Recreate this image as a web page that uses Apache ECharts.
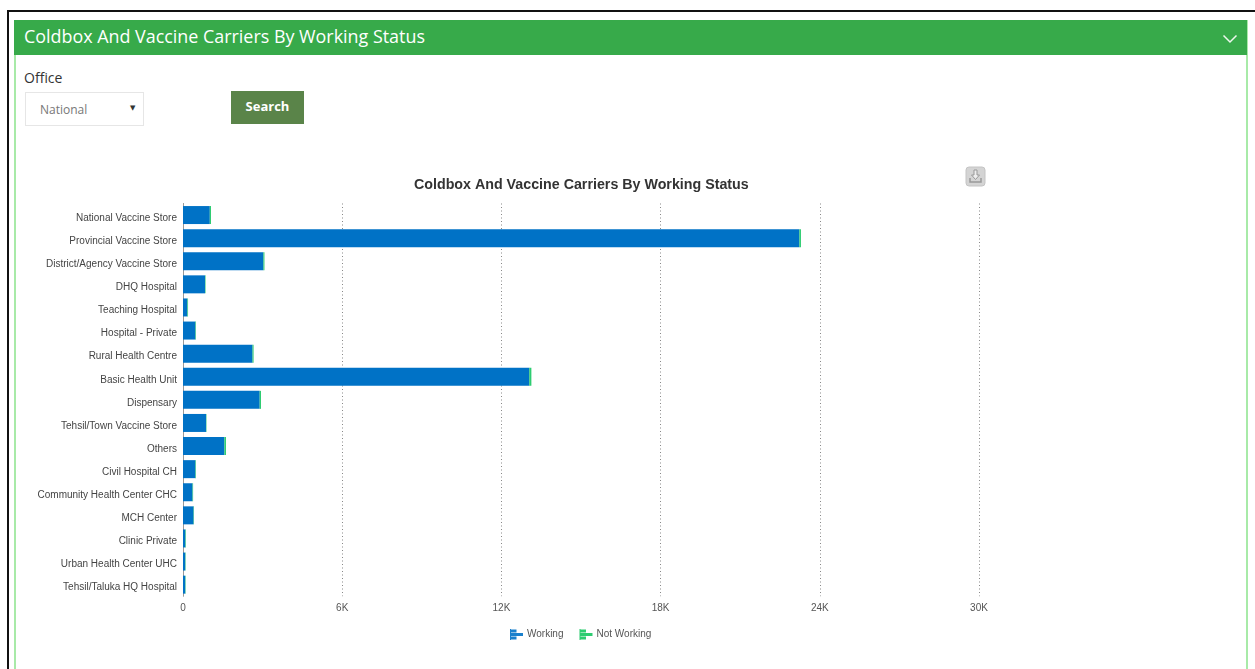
<!DOCTYPE html>
<html><head><meta charset="utf-8">
<style>
html,body{margin:0;padding:0;background:#fff;width:1255px;height:669px;overflow:hidden}
.a{position:absolute;box-sizing:border-box}
#frameT{left:7px;top:10px;width:1248px;height:2px;background:#111}
#frameL{left:7px;top:10px;width:2px;height:659px;background:#111}
#panel{left:14px;top:20px;width:1234px;height:649px;border-left:2px solid #a8eaa8;border-right:2px solid #a8eaa8}
#head{left:14px;top:20px;width:1233px;height:35px;background:#37aa4a;color:#fff;font:17.9px "Open Sans",sans-serif;line-height:33px;padding-left:10px}
#chev{left:1222px;top:34px}
#office{left:24px;top:68px;font:14px "Open Sans",sans-serif;color:#333}
#sel{left:25px;top:92px;width:119px;height:34px;border:1px solid #e6e6e6;font:12px "Open Sans",sans-serif;color:#777;line-height:33px;padding-left:14px}
#arrow{left:130px;top:100px;font:7px "DejaVu Sans",sans-serif;color:#333;line-height:16px}
#btn{left:231px;top:91px;width:73px;height:33px;background:#5a8449;color:#fff;font:bold 13px "Open Sans",sans-serif;line-height:31px;text-align:center}
#chart{left:0;top:0;width:1255px;height:669px}
</style>
<script src="https://cdn.jsdelivr.net/npm/echarts@6/dist/echarts.min.js"></script>
</head><body>
<div class="a" id="panel"></div>
<div class="a" id="frameT"></div><div class="a" id="frameL"></div>
<div class="a" id="head">Coldbox And Vaccine Carriers By Working Status</div>
<svg class="a" id="chev" width="16" height="10"><path d="M1.5 1.5L8 8L14.5 1.5" fill="none" stroke="#eef7ee" stroke-width="1.5"/></svg>
<div class="a" id="office">Office</div>
<div class="a" id="sel">National</div>
<div class="a" id="arrow">▼</div>
<div class="a" id="btn">Search</div>
<div class="a" id="chart"></div>
<script>
const categories = ["National Vaccine Store","Provincial Vaccine Store","District/Agency Vaccine Store","DHQ Hospital","Teaching Hospital","Hospital - Private","Rural Health Centre","Basic Health Unit","Dispensary","Tehsil/Town Vaccine Store","Others","Civil Hospital CH","Community Health Center CHC","MCH Center","Clinic Private","Urban Health Center UHC","Tehsil/Taluka HQ Hospital"];
const working =    [1010,23230,3030,830,165,470,2620,13050,2890,870,1560,470,360,400,90,85,85];
const notWorking = [  45,   60,  40, 20, 25, 20,  40,   80,  50, 15,  60, 20, 20, 15,20,15,15];
const tickValues = [0,6000,12000,18000,24000,30000];
const chartTitle = "Coldbox And Vaccine Carriers By Working Status";
const legendIcon = "path://M0 0H1V11H0Z M1 0.500H6.500V3.500H1Z M1 4H13V7H1Z M1 7.500H6.500V10.500H1Z";
const chart = echarts.init(document.getElementById('chart'));
chart.setOption({
  backgroundColor:'transparent',
  animation:false,
  textStyle:{fontFamily:'"Liberation Sans",Arial,sans-serif'},
  title:{text:chartTitle,left:409,top:173,
    textStyle:{fontSize:14.25,fontWeight:'bold',color:'#333',fontFamily:'"Liberation Sans",Arial,sans-serif'}},
  legend:{left:505,top:624,itemWidth:13,itemHeight:11,itemGap:16,
    textStyle:{fontSize:10,color:'#555',padding:[1,0,0,-1]},
    data:[{name:'Working',icon:legendIcon,itemStyle:{color:'#1a80cc'}},{name:'Not Working',icon:legendIcon,itemStyle:{color:'#2ecc71'}}]},
  grid:{left:183,top:203.5,width:796,height:392.7,containLabel:false},
  xAxis:{type:'value',min:0,max:30000,interval:6000,
    axisLine:{show:false},axisTick:{show:false},
    axisLabel:{fontSize:10,color:'#555',margin:7,
      formatter:v=>tickValues.includes(v)?(v===0?'0':(v/1000)+'K'):''},
    splitLine:{show:true,lineStyle:{type:[1,2.5],color:'#888',width:1}}},
  yAxis:{type:'category',inverse:true,data:categories,
    axisLine:{show:true,lineStyle:{color:'#999',width:1}},axisTick:{show:false},
    axisLabel:{fontSize:10,color:'#444',margin:6,interval:0,verticalAlign:'top',lineHeight:6},
    splitLine:{show:false}},
  series:[
    {name:'Working',type:'bar',stack:'s',data:working,barWidth:18,itemStyle:{color:'#0072c6'}},
    {name:'Not Working',type:'bar',stack:'s',data:notWorking,barWidth:18,itemStyle:{color:'#2ecc71'}}
  ],
  graphic:[
    {type:'rect',x:966,y:167,shape:{x:0,y:0,width:19,height:19,r:3},style:{fill:'#d4d4d4',stroke:'#c4c4c4',lineWidth:1}},
    {type:'polygon',x:966,y:167,shape:{points:[[8,3],[11,3],[11,8],[13.5,8],[9.5,12.5],[5.5,8],[8,8]]},style:{fill:'#eee',stroke:'#999',lineWidth:1}},
    {type:'polyline',x:966,y:167,shape:{points:[[4,11],[4,15],[15,15],[15,11]]},style:{fill:'none',stroke:'#999',lineWidth:1.5}}
  ]
});
</script>
</body></html>
